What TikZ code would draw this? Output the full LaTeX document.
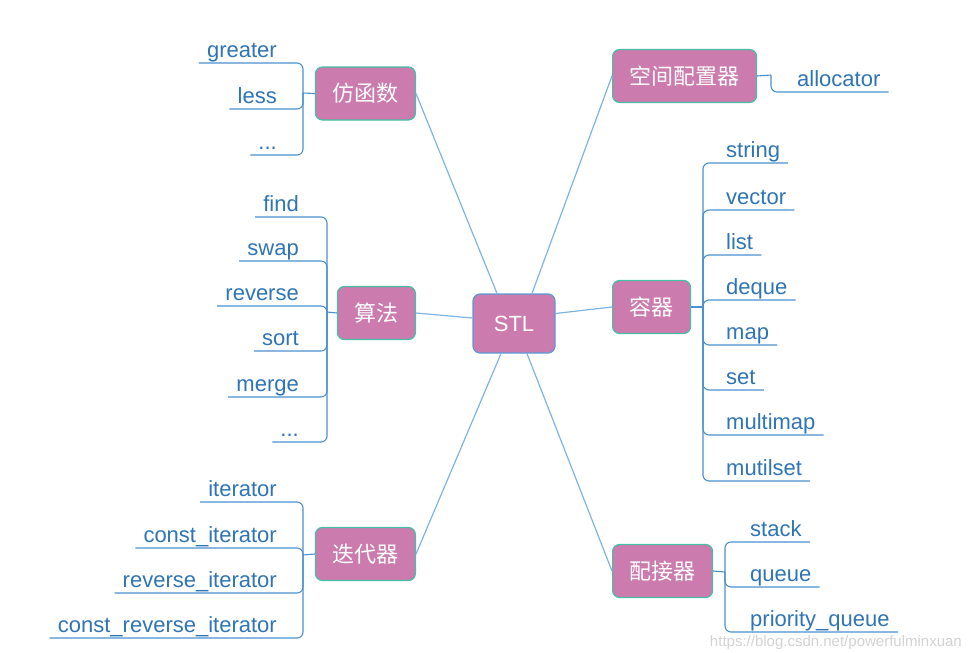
\documentclass[tikz,border=0pt]{standalone}
\usepackage{fontspec}
\setmainfont{Liberation Sans}
\newfontfamily\cjk{Noto Sans CJK SC}
\usetikzlibrary{positioning}
\definecolor{topicfill}{HTML}{CB7BAD}
\definecolor{topicedge}{HTML}{45BFA5}
\definecolor{rootedge}{HTML}{5B9BD5}
\definecolor{branchblue}{HTML}{7EB4E2}
\definecolor{twigblue}{HTML}{4A90CF}
\definecolor{leafblue}{HTML}{2F74B5}

\begin{document}
\begin{tikzpicture}[x=1pt, y=-1pt,
			topic/.style={draw=topicedge, line width=1.2pt, fill=topicfill, rounded corners=7pt, minimum height=53pt, inner xsep=17pt, text=white, font=\cjk\fontsize{22}{26}\selectfont},
			root/.style={topic, draw=rootedge, minimum height=59pt, minimum width=82pt, font=\fontsize{22}{26}\selectfont},
			leafL/.style={anchor=south east, inner xsep=8pt, inner ysep=5pt, text depth=0pt, text=leafblue, font=\fontsize{22}{26}\selectfont},
			leafR/.style={leafL, anchor=south west},
			branch/.style={draw=branchblue, line width=1.2pt},
			twig/.style={draw=twigblue, line width=1.1pt, rounded corners=6pt}
		]
		\useasboundingbox (0,0) rectangle (970,653);

		% Centre
		\node[root] (stl) at (514,323.5) {STL};

		% Topics
		\node[topic, anchor=east] (functor) at (416,93.5) {仿函数};
		\node[topic, anchor=east] (algo) at (416,313) {算法};
		\node[topic, anchor=east] (iter) at (416,554) {迭代器};
		\node[topic, anchor=west] (alloc) at (612,76) {空间配置器};
		\node[topic, anchor=west] (cont) at (612,307) {容器};
		\node[topic, anchor=west] (adapt) at (612,571) {配接器};

		% Branches
		\draw[branch] (functor.east) -- ([xshift=-17pt]stl.north);
		\draw[branch] (alloc.west) -- ([xshift=18pt]stl.north);
		\draw[branch] (algo.east) -- ([yshift=5.5pt]stl.west);
		\draw[branch] (cont.west) -- ([yshift=10pt]stl.east);
		\draw[branch] (iter.east) -- ([xshift=-13pt]stl.south);
		\draw[branch] (adapt.west) -- ([xshift=13pt]stl.south);

		% Functors
		\coordinate (functorJ) at (303,93);
		\node[leafL] (greater) at (285,63) {greater};
		\node[leafL] (less) at (285,109) {less};
		\node[leafL] (fdots) at (285,155) {...};
		\draw[twig] (functor.west) -- (functorJ);
		\draw[twig] (functorJ) |- (greater.south west);
		\draw[twig] (functorJ) |- (less.south west);
		\draw[twig] (functorJ) |- (fdots.south west);

		% Algorithms
		\coordinate (algoJ) at (327,312);
		\node[leafL] (find) at (307,217) {find};
		\node[leafL] (swap) at (307,261) {swap};
		\node[leafL] (reverse) at (307,306) {reverse};
		\node[leafL] (sort) at (307,351) {sort};
		\node[leafL] (merge) at (307,397) {merge};
		\node[leafL] (adots) at (307,442) {...};
		\draw[twig] (algo.west) -- (algoJ);
		\draw[twig] (algoJ) |- (find.south west);
		\draw[twig] (algoJ) |- (swap.south west);
		\draw[twig] (algoJ) |- (reverse.south west);
		\draw[twig] (algoJ) |- (sort.south west);
		\draw[twig] (algoJ) |- (merge.south west);
		\draw[twig] (algoJ) |- (adots.south west);

		% Iterators
		\coordinate (iterJ) at (303,555);
		\node[leafL] (iterator) at (285,502) {iterator};
		\node[leafL] (citer) at (285,548) {const\_iterator};
		\node[leafL] (riter) at (285,593) {reverse\_iterator};
		\node[leafL] (criter) at (285,638) {const\_reverse\_iterator};
		\draw[twig] (iter.west) -- (iterJ);
		\draw[twig] (iterJ) |- (iterator.south west);
		\draw[twig] (iterJ) |- (citer.south west);
		\draw[twig] (iterJ) |- (riter.south west);
		\draw[twig] (iterJ) |- (criter.south west);

		% Allocator
		\coordinate (allocJ) at (771,75);
		\node[leafR] (allocator) at (789,92) {allocator};
		\draw[twig] (alloc.east) -- (allocJ);
		\draw[twig] (allocJ) |- (allocator.south east);

		% Containers
		\coordinate (contJ) at (703,307);
		\node[leafR] (string) at (718,163) {string};
		\node[leafR] (vector) at (718,210) {vector};
		\node[leafR] (list) at (718,255) {list};
		\node[leafR] (deque) at (718,300) {deque};
		\node[leafR] (map) at (718,345) {map};
		\node[leafR] (set) at (718,390) {set};
		\node[leafR] (multimap) at (718,435) {multimap};
		\node[leafR] (mutilset) at (718,481) {mutilset};
		\draw[twig] (cont.east) -- (contJ);
		\draw[twig] (contJ) |- (string.south east);
		\draw[twig] (contJ) |- (vector.south east);
		\draw[twig] (contJ) |- (list.south east);
		\draw[twig] (contJ) |- (deque.south east);
		\draw[twig] (contJ) |- (map.south east);
		\draw[twig] (contJ) |- (set.south east);
		\draw[twig] (contJ) |- (multimap.south east);
		\draw[twig] (contJ) |- (mutilset.south east);

		% Adapters
		\coordinate (adaptJ) at (725,572);
		\node[leafR] (stack) at (742,542) {stack};
		\node[leafR] (queue) at (742,587) {queue};
		\node[leafR] (pqueue) at (742,632) {priority\_queue};
		\draw[twig] (adapt.east) -- (adaptJ);
		\draw[twig] (adaptJ) |- (stack.south east);
		\draw[twig] (adaptJ) |- (queue.south east);
		\draw[twig] (adaptJ) |- (pqueue.south east);

		% Watermark
		\node[anchor=east, inner sep=1pt, text=gray!35, font=\fontsize{15}{17}\selectfont] (mark) at (963,643) {https://blog.csdn.net/powerfulminxuan};
	\end{tikzpicture}
\end{document}
